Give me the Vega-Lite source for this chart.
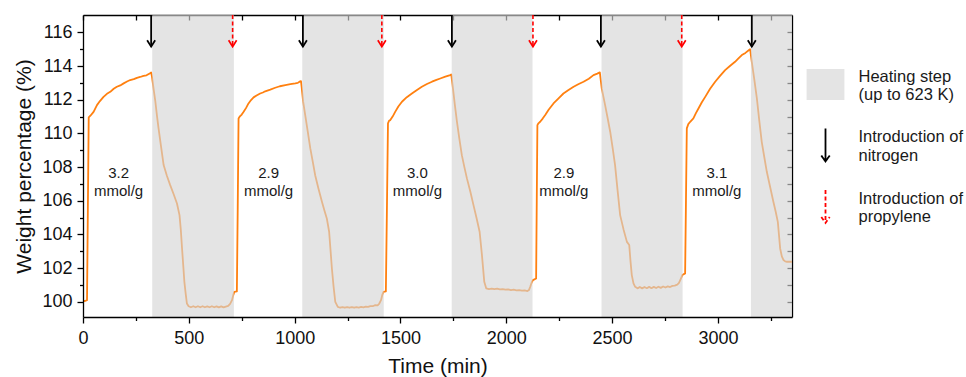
{
  "$schema": "https://vega.github.io/schema/vega-lite/v6.json",
  "width": 709,
  "height": 302,
  "autosize": {"type": "none"},
  "padding": {"left": 83, "top": 15, "right": 174, "bottom": 60},
  "background": "white",
  "datasets": {
    "curve": [
      {"t":0,"w":100.05},{"t":10,"w":100.05},{"t":19,"w":100.1},{"t":23,"w":105.5},{"t":27,"w":110.95},{"t":35,"w":111.05},{"t":50,"w":111.28},{"t":66,"w":111.68},{"t":80,"w":111.92},{"t":97,"w":112.17},{"t":113,"w":112.35},{"t":129,"w":112.47},{"t":145,"w":112.65},{"t":160,"w":112.77},{"t":176,"w":112.85},{"t":192,"w":112.97},{"t":208,"w":113.08},{"t":223,"w":113.17},{"t":240,"w":113.22},{"t":255,"w":113.3},{"t":270,"w":113.35},{"t":286,"w":113.42},{"t":300,"w":113.45},{"t":315,"w":113.56},{"t":322,"w":113.62},
      {"t":326,"w":113.36},{"t":334,"w":112.6},{"t":342,"w":111.88},{"t":350,"w":111.0},{"t":357,"w":110.3},{"t":369,"w":109.2},{"t":381,"w":108.12},{"t":396,"w":107.5},{"t":412,"w":106.93},{"t":428,"w":106.4},{"t":444,"w":105.84},{"t":456,"w":105.15},{"t":462,"w":104.3},{"t":468,"w":103.17},{"t":474,"w":102.1},{"t":479,"w":101.19},{"t":485,"w":100.5},{"t":491,"w":99.9},{"t":499,"w":99.74},
      {"t":510,"w":99.68},{"t":521,"w":99.74},{"t":532,"w":99.68},{"t":543,"w":99.74},{"t":554,"w":99.68},{"t":565,"w":99.74},{"t":576,"w":99.68},{"t":587,"w":99.73},{"t":598,"w":99.68},{"t":609,"w":99.74},{"t":620,"w":99.68},{"t":631,"w":99.73},{"t":642,"w":99.67},{"t":653,"w":99.73},{"t":664,"w":99.67},{"t":675,"w":99.72},{"t":686,"w":99.76},{"t":695,"w":99.88},{"t":704,"w":100.1},{"t":710,"w":100.4},{"t":715,"w":100.59},{"t":727,"w":100.62},{"t":731,"w":105.5},{"t":735,"w":110.89},
      {"t":740,"w":110.99},{"t":750,"w":111.12},{"t":759,"w":111.28},{"t":770,"w":111.5},{"t":782,"w":111.78},{"t":794,"w":111.98},{"t":806,"w":112.14},{"t":820,"w":112.25},{"t":837,"w":112.37},{"t":850,"w":112.43},{"t":861,"w":112.5},{"t":885,"w":112.6},{"t":908,"w":112.71},{"t":930,"w":112.8},{"t":956,"w":112.87},{"t":980,"w":112.92},{"t":1003,"w":112.97},{"t":1015,"w":113.0},{"t":1023,"w":113.07},{"t":1030,"w":113.1},
      {"t":1033,"w":112.77},{"t":1040,"w":111.9},{"t":1050,"w":111.09},{"t":1062,"w":110.1},{"t":1074,"w":109.11},{"t":1086,"w":108.3},{"t":1097,"w":107.52},{"t":1113,"w":106.7},{"t":1129,"w":105.94},{"t":1140,"w":105.45},{"t":1152,"w":104.95},{"t":1163,"w":104.16},{"t":1170,"w":103.0},{"t":1176,"w":101.98},{"t":1184,"w":100.9},{"t":1192,"w":100.0},{"t":1204,"w":99.7},
      {"t":1215,"w":99.65},{"t":1226,"w":99.69},{"t":1237,"w":99.65},{"t":1248,"w":99.69},{"t":1259,"w":99.65},{"t":1270,"w":99.69},{"t":1281,"w":99.65},{"t":1292,"w":99.69},{"t":1303,"w":99.66},{"t":1314,"w":99.7},{"t":1325,"w":99.67},{"t":1336,"w":99.71},{"t":1347,"w":99.7},{"t":1358,"w":99.75},{"t":1369,"w":99.74},{"t":1381,"w":99.8},{"t":1392,"w":99.79},{"t":1400,"w":99.9},{"t":1408,"w":100.1},{"t":1415,"w":100.45},{"t":1420,"w":100.59},{"t":1431,"w":100.62},{"t":1436,"w":105.5},{"t":1441,"w":110.6},
      {"t":1446,"w":110.75},{"t":1452,"w":110.79},{"t":1463,"w":111.0},{"t":1475,"w":111.28},{"t":1490,"w":111.6},{"t":1507,"w":111.88},{"t":1530,"w":112.15},{"t":1554,"w":112.37},{"t":1578,"w":112.58},{"t":1601,"w":112.77},{"t":1625,"w":112.93},{"t":1649,"w":113.07},{"t":1670,"w":113.18},{"t":1688,"w":113.26},{"t":1712,"w":113.37},{"t":1735,"w":113.46},{"t":1740,"w":113.5},
      {"t":1748,"w":112.67},{"t":1757,"w":111.7},{"t":1767,"w":110.69},{"t":1778,"w":109.7},{"t":1790,"w":108.71},{"t":1802,"w":108.0},{"t":1814,"w":107.33},{"t":1830,"w":106.55},{"t":1845,"w":105.74},{"t":1860,"w":104.95},{"t":1874,"w":104.16},{"t":1885,"w":102.77},{"t":1896,"w":101.19},{"t":1905,"w":100.8},
      {"t":1918,"w":100.76},{"t":1931,"w":100.79},{"t":1944,"w":100.75},{"t":1957,"w":100.78},{"t":1970,"w":100.74},{"t":1983,"w":100.76},{"t":1996,"w":100.72},{"t":2009,"w":100.74},{"t":2022,"w":100.7},{"t":2035,"w":100.72},{"t":2048,"w":100.68},{"t":2061,"w":100.7},{"t":2074,"w":100.66},{"t":2087,"w":100.68},{"t":2100,"w":100.64},{"t":2107,"w":100.7},{"t":2113,"w":100.89},{"t":2120,"w":101.15},{"t":2126,"w":101.29},{"t":2141,"w":101.39},{"t":2144,"w":106.0},{"t":2147,"w":110.49},
      {"t":2152,"w":110.6},{"t":2160,"w":110.69},{"t":2172,"w":110.88},{"t":2184,"w":111.09},{"t":2200,"w":111.4},{"t":2223,"w":111.78},{"t":2247,"w":112.08},{"t":2270,"w":112.37},{"t":2294,"w":112.58},{"t":2318,"w":112.77},{"t":2340,"w":112.92},{"t":2365,"w":113.07},{"t":2390,"w":113.25},{"t":2412,"w":113.46},{"t":2430,"w":113.55},{"t":2442,"w":113.62},
      {"t":2451,"w":112.67},{"t":2467,"w":111.68},{"t":2479,"w":110.9},{"t":2491,"w":110.1},{"t":2503,"w":109.1},{"t":2514,"w":108.12},{"t":2526,"w":106.6},{"t":2538,"w":105.15},{"t":2554,"w":104.3},{"t":2570,"w":103.56},{"t":2581,"w":103.37},{"t":2587,"w":102.4},{"t":2593,"w":101.59},{"t":2601,"w":101.1},{"t":2609,"w":100.89},
      {"t":2620,"w":100.8},{"t":2631,"w":100.88},{"t":2642,"w":100.8},{"t":2653,"w":100.88},{"t":2664,"w":100.81},{"t":2675,"w":100.89},{"t":2686,"w":100.81},{"t":2697,"w":100.89},{"t":2708,"w":100.82},{"t":2719,"w":100.9},{"t":2730,"w":100.83},{"t":2741,"w":100.91},{"t":2752,"w":100.85},{"t":2763,"w":100.92},{"t":2774,"w":100.88},{"t":2785,"w":100.95},{"t":2796,"w":100.96},{"t":2808,"w":101.02},{"t":2816,"w":101.12},{"t":2824,"w":101.35},{"t":2832,"w":101.59},{"t":2845,"w":101.69},{"t":2849,"w":106.0},{"t":2853,"w":110.3},
      {"t":2860,"w":110.55},{"t":2869,"w":110.69},{"t":2884,"w":110.89},{"t":2896,"w":111.2},{"t":2908,"w":111.48},{"t":2924,"w":111.85},{"t":2940,"w":112.17},{"t":2963,"w":112.65},{"t":2987,"w":113.07},{"t":3010,"w":113.42},{"t":3034,"w":113.76},{"t":3058,"w":114.02},{"t":3081,"w":114.25},{"t":3097,"w":114.45},{"t":3113,"w":114.65},{"t":3130,"w":114.78},{"t":3147,"w":114.95},{"t":3152,"w":115.0},
      {"t":3160,"w":114.25},{"t":3172,"w":113.2},{"t":3184,"w":112.08},{"t":3195,"w":110.8},{"t":3207,"w":109.5},{"t":3219,"w":108.6},{"t":3231,"w":107.72},{"t":3247,"w":106.8},{"t":3262,"w":105.94},{"t":3273,"w":105.35},{"t":3283,"w":104.75},{"t":3294,"w":103.17},{"t":3302,"w":102.7},{"t":3310,"w":102.48},{"t":3318,"w":102.4},{"t":3326,"w":102.38},{"t":3350,"w":102.38}
    ],
    "heat": [
      {"start": 327, "end": 713},
      {"start": 1036, "end": 1421},
      {"start": 1742, "end": 2124},
      {"start": 2450, "end": 2833},
      {"start": 3156, "end": 3350}
    ],
    "arrows": [
      {"t": 322, "gas": "N2"}, {"t": 1039, "gas": "N2"}, {"t": 1743, "gas": "N2"}, {"t": 2447, "gas": "N2"}, {"t": 3160, "gas": "N2"},
      {"t": 707, "gas": "C3H6"}, {"t": 1412, "gas": "C3H6"}, {"t": 2126, "gas": "C3H6"}, {"t": 2829, "gas": "C3H6"}
    ],
    "labels": [
      {"t": 168, "w": 107.11, "label": "3.2\nmmol/g"},
      {"t": 877, "w": 107.11, "label": "2.9\nmmol/g"},
      {"t": 1580, "w": 107.11, "label": "3.0\nmmol/g"},
      {"t": 2272, "w": 107.11, "label": "2.9\nmmol/g"},
      {"t": 2995, "w": 107.11, "label": "3.1\nmmol/g"}
    ],
    "legend": [
      {"item": "Heating step|(up to 623 K)"},
      {"item": "Introduction of|nitrogen"},
      {"item": "Introduction of|propylene"}
    ]
  },
  "layer": [
    {
      "data": {"name": "curve"},
      "mark": {"type": "line", "color": "#FF8010", "strokeWidth": 1.8, "strokeJoin": "round", "clip": true},
      "encoding": {
        "x": {"field": "t", "type": "quantitative", "scale": {"domain": [0, 3350], "nice": false, "zero": false},
          "axis": {"orient": "bottom", "values": [0,250,500,750,1000,1250,1500,1750,2000,2250,2500,2750,3000,3250],
            "format": "d",
            "labelExpr": "datum.value % 500 === 0 ? datum.label : ''",
            "tickSize": {"condition": {"test": "datum.value % 500 === 0", "value": 6}, "value": 3.5},
            "labelPadding": 6, "labelFlush": false, "labelOverlap": false,
            "title": "Time (min)", "titlePadding": 8, "zindex": 1}},
        "y": {"field": "w", "type": "quantitative", "scale": {"domain": [99.1, 117.03], "nice": false, "zero": false},
          "axis": {"orient": "left", "values": [100,101,102,103,104,105,106,107,108,109,110,111,112,113,114,115,116],
            "format": "d",
            "labelExpr": "datum.value % 2 === 0 ? datum.label : ''",
            "tickSize": {"condition": {"test": "datum.value % 2 === 0", "value": 6}, "value": 3.5},
            "labelPadding": 5, "labelFlush": false, "labelOverlap": false,
            "title": "Weight percentage (%)", "titlePadding": 7, "zindex": 1}}
      }
    },
    {
      "data": {"name": "heat"},
      "mark": {"type": "rect", "color": "#d4d4d4", "opacity": 0.64},
      "encoding": {
        "x": {"field": "start", "type": "quantitative", "scale": {"domain": [0, 3350], "nice": false, "zero": false},
          "axis": {"orient": "top", "values": [0,250,500,750,1000,1250,1500,1750,2000,2250,2500,2750,3000,3250],
            "labels": false, "tickSize": -5, "title": null, "zindex": 0}},
        "x2": {"field": "end"}
      }
    },
    {
      "data": {"name": "labels"},
      "mark": {"type": "text", "lineBreak": "\n", "fontSize": 15, "lineHeight": 18, "font": "Liberation Sans", "color": "#1a1a1a", "baseline": "middle", "align": "center", "dy": -9},
      "encoding": {
        "x": {"field": "t", "type": "quantitative", "scale": {"domain": [0, 3350], "nice": false, "zero": false}, "axis": null},
        "y": {"field": "w", "type": "quantitative", "scale": {"domain": [99.1, 117.03], "nice": false, "zero": false},
          "axis": {"orient": "right", "values": [100,101,102,103,104,105,106,107,108,109,110,111,112,113,114,115,116],
            "labels": false, "tickSize": -5, "title": null, "zindex": 0}},
        "text": {"field": "label"}
      }
    },
    {
      "data": {"name": "arrows"},
      "transform": [{"filter": "datum.gas === 'N2'"}],
      "mark": {"type": "rule", "color": "#000000", "strokeWidth": 1.8},
      "encoding": {
        "x": {"field": "t", "type": "quantitative", "scale": {"domain": [0, 3350], "nice": false, "zero": false}, "axis": null},
        "y": {"datum": 117.03, "scale": {"domain": [99.1, 117.03], "nice": false, "zero": false}, "axis": null},
        "y2": {"datum": 115.15}
      }
    },
    {
      "data": {"name": "arrows"},
      "transform": [{"filter": "datum.gas === 'C3H6'"}],
      "mark": {"type": "rule", "color": "#ff0000", "strokeWidth": 1.6, "strokeDash": [4, 2.5]},
      "encoding": {
        "x": {"field": "t", "type": "quantitative", "scale": {"domain": [0, 3350], "nice": false, "zero": false}, "axis": null},
        "y": {"datum": 117.03, "scale": {"domain": [99.1, 117.03], "nice": false, "zero": false}, "axis": null},
        "y2": {"datum": 115.15}
      }
    },
    {
      "data": {"name": "arrows"},
      "transform": [{"filter": "datum.gas === 'N2'"}],
      "mark": {"type": "point", "shape": "M-1,-1.6L0,0L1,-1.6", "size": 64, "filled": false, "stroke": "#000000", "strokeWidth": 1.8, "opacity": 1},
      "encoding": {
        "x": {"field": "t", "type": "quantitative", "scale": {"domain": [0, 3350], "nice": false, "zero": false}, "axis": null},
        "y": {"datum": 115.15, "scale": {"domain": [99.1, 117.03], "nice": false, "zero": false}, "axis": null}
      }
    },
    {
      "data": {"name": "arrows"},
      "transform": [{"filter": "datum.gas === 'C3H6'"}],
      "mark": {"type": "point", "shape": "M-1,-1.6L0,0L1,-1.6", "size": 64, "filled": false, "stroke": "#ff0000", "strokeWidth": 1.7, "opacity": 1},
      "encoding": {
        "x": {"field": "t", "type": "quantitative", "scale": {"domain": [0, 3350], "nice": false, "zero": false}, "axis": null},
        "y": {"datum": 115.15, "scale": {"domain": [99.1, 117.03], "nice": false, "zero": false}, "axis": null}
      }
    },
    {
      "data": {"name": "legend"},
      "transform": [{"filter": "false"}],
      "mark": {"type": "point", "filled": true, "opacity": 1, "strokeWidth": 1.8, "size": 961},
      "encoding": {
        "shape": {"field": "item", "type": "nominal",
          "scale": {"domain": ["Heating step|(up to 623 K)", "Introduction of|nitrogen", "Introduction of|propylene"],
            "range": ["M-1.22,-1H1.22V1H-1.22Z", "M0,-1.06V1.06M-0.27,0.68L0,1.06L0.27,0.68", "M0,-1.06V1.06M-0.27,0.68L0,1.06L0.27,0.68"]},
          "legend": {"title": null, "orient": "none", "legendX": 726, "legendY": 53, "labelExpr": "split(datum.label, '|')", "labelFont": "Liberation Sans", "labelFontSize": 16.5, "labelColor": "#1a1a1a", "labelLimit": 0, "labelOffset": 16.5, "labelBaseline": "bottom", "rowPadding": 20.5, "symbolStrokeWidth": 1.8, "symbolSize": 961, "encode": {"labels": {"update": {"lineHeight": {"value": 20}}}}}},
        "fill": {"field": "item", "type": "nominal",
          "scale": {"domain": ["Heating step|(up to 623 K)", "Introduction of|nitrogen", "Introduction of|propylene"],
            "range": ["#e4e4e4", "transparent", "transparent"]},
          "legend": {"title": null, "orient": "none", "legendX": 726, "legendY": 53, "labelExpr": "split(datum.label, '|')", "labelFont": "Liberation Sans", "labelFontSize": 16.5, "labelColor": "#1a1a1a", "labelLimit": 0, "labelOffset": 16.5, "labelBaseline": "bottom", "rowPadding": 20.5, "symbolStrokeWidth": 1.8, "symbolSize": 961, "encode": {"labels": {"update": {"lineHeight": {"value": 20}}}}}},
        "stroke": {"field": "item", "type": "nominal",
          "scale": {"domain": ["Heating step|(up to 623 K)", "Introduction of|nitrogen", "Introduction of|propylene"],
            "range": ["transparent", "#000000", "#ff0000"]},
          "legend": {"title": null, "orient": "none", "legendX": 726, "legendY": 53, "labelExpr": "split(datum.label, '|')", "labelFont": "Liberation Sans", "labelFontSize": 16.5, "labelColor": "#1a1a1a", "labelLimit": 0, "labelOffset": 16.5, "labelBaseline": "bottom", "rowPadding": 20.5, "symbolStrokeWidth": 1.8, "symbolSize": 961, "encode": {"labels": {"update": {"lineHeight": {"value": 20}}}}}},
        "strokeDash": {"field": "item", "type": "nominal",
          "scale": {"domain": ["Heating step|(up to 623 K)", "Introduction of|nitrogen", "Introduction of|propylene"],
            "range": [[1, 0], [1, 0], [4, 2.5]]},
          "legend": {"title": null, "orient": "none", "legendX": 726, "legendY": 53, "labelExpr": "split(datum.label, '|')", "labelFont": "Liberation Sans", "labelFontSize": 16.5, "labelColor": "#1a1a1a", "labelLimit": 0, "labelOffset": 16.5, "labelBaseline": "bottom", "rowPadding": 20.5, "symbolStrokeWidth": 1.8, "symbolSize": 961, "encode": {"labels": {"update": {"lineHeight": {"value": 20}}}}}}
      }
    }
  ],
  "resolve": {"axis": {"x": "independent", "y": "independent"}},
  "config": {
    "view": {"stroke": null},
    "axis": {
      "grid": false,
      "domainColor": "#000000",
      "domainWidth": 1.3,
      "tickColor": "#000000",
      "tickWidth": 1.3,
      "labelFont": "Liberation Sans",
      "labelFontSize": 18,
      "labelColor": "#111111",
      "titleFont": "Liberation Sans",
      "titleFontSize": 21,
      "titleFontWeight": "normal",
      "titleColor": "#111111"
    }
  }
}
